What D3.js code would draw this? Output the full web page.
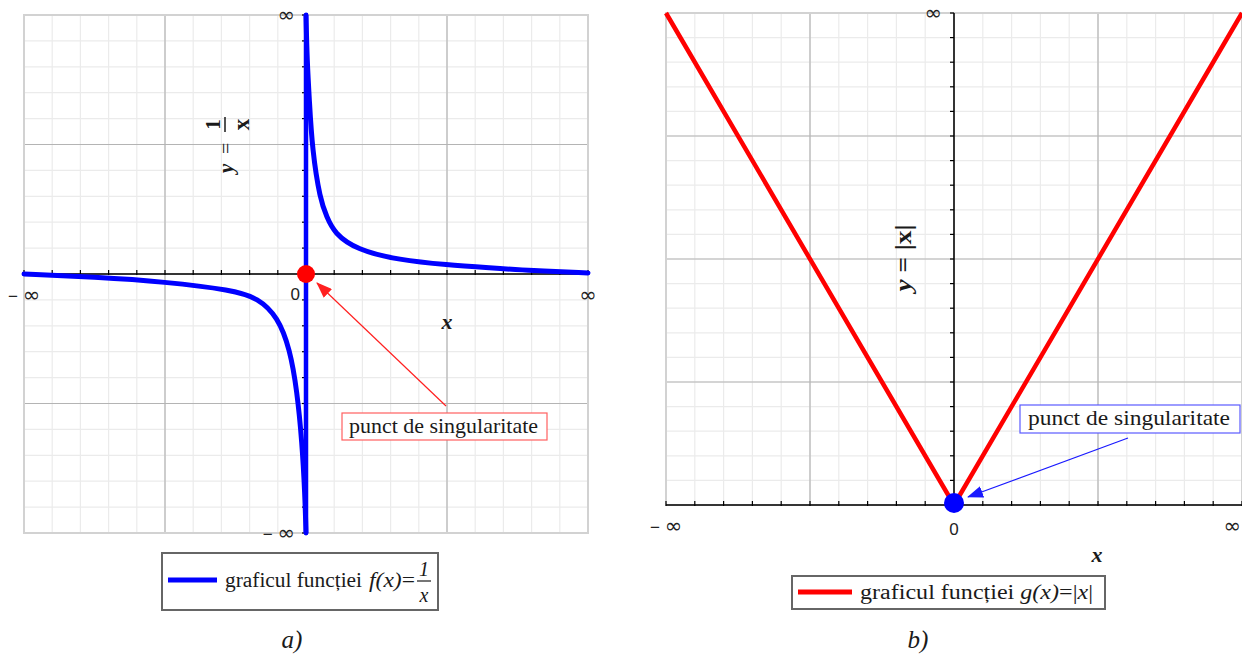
<!DOCTYPE html>
<html lang="ro">
<head>
<meta charset="UTF-8">
<title>Puncte de singularitate</title>
<script src="https://d3js.org/d3.v7.min.js"></script>
<style>
  body { margin: 0; background: #fff; }
  .serif { font-family: "Liberation Serif", "Times New Roman", serif; fill: #1a1a1a; }
  .tick-lbl { font-family: "Liberation Sans", Arial, sans-serif; font-size: 17px; fill: #222; }
  .inf { font-family: "DejaVu Sans", sans-serif; font-size: 21px; }
</style>
</head>
<body>
<script>
// curba y = 1/x (coordonate de tip "infinity plot")
const hypNegX = [-1, -0.75, -0.5, -0.26, -0.17, -0.10, -0.057, -0.032, -0.014, -0.004, 0];
const hypNegY = [0, -0.012, -0.03, -0.062, -0.093, -0.166, -0.29, -0.45, -0.65, -0.85, -1];
const hypPosX = [0, 0.004, 0.012, 0.022, 0.05, 0.074, 0.1, 0.18, 0.33, 0.5, 0.65, 0.8, 1];
const hypPosY = [1, 0.82, 0.67, 0.48, 0.286, 0.22, 0.158, 0.093, 0.054, 0.035, 0.024, 0.013, 0.004];

// curba y = |x|
const absX = [-1, 0, 1];
const absY = [1, 0, 1];

// linii de grilă
const majorA = [-1, -0.5, 0, 0.5, 1];
const minorA = d3.range(-10, 11).map(d => d / 10);
const majorBx = [-1, -0.5, 0, 0.5, 1];
const minorBx = d3.range(-10, 11).map(d => d / 10);
const majorBy = [0, 0.25, 0.5, 0.75, 1];
const minorBy = d3.range(0, 21).map(d => d / 20);

const svg = d3.select("body").append("svg")
    .attr("width", 1242).attr("height", 655);

const defs = svg.append("defs");
[["arrRed", "#ff2020"], ["arrBlue", "#1a1aff"]].forEach(([id, c]) => {
    defs.append("marker").attr("id", id)
        .attr("viewBox", "0 0 16 12").attr("refX", 15).attr("refY", 6)
        .attr("markerWidth", 16).attr("markerHeight", 12)
        .attr("markerUnits", "userSpaceOnUse").attr("orient", "auto")
        .append("path").attr("d", "M0,0 L16,6 L0,12 Z").attr("fill", c);
});

function grid(g, x, y, mx, Mx, my, My) {
    const [x0, x1] = x.range(), [y0, y1] = y.range();
    g.selectAll(".vmin").data(mx).enter().append("line")
        .attr("x1", d => x(d)).attr("x2", d => x(d)).attr("y1", y0).attr("y2", y1)
        .attr("stroke", "#ebebeb").attr("stroke-width", 1.2);
    g.selectAll(".hmin").data(my).enter().append("line")
        .attr("y1", d => y(d)).attr("y2", d => y(d)).attr("x1", x0).attr("x2", x1)
        .attr("stroke", "#ebebeb").attr("stroke-width", 1.2);
    g.selectAll(".vmaj").data(Mx).enter().append("line")
        .attr("x1", d => x(d)).attr("x2", d => x(d)).attr("y1", y0).attr("y2", y1)
        .attr("stroke", "#b4b4b4").attr("stroke-width", 1.2);
    g.selectAll(".hmaj").data(My).enter().append("line")
        .attr("y1", d => y(d)).attr("y2", d => y(d)).attr("x1", x0).attr("x2", x1)
        .attr("stroke", "#b4b4b4").attr("stroke-width", 1.2);
    g.append("rect").attr("x", x0).attr("y", y1).attr("width", x1 - x0).attr("height", y0 - y1)
        .attr("fill", "none").attr("stroke", "#d2d2d2").attr("stroke-width", 2);
}

function axes(g, x, y, xTicks, yTicks, x0v, y0v) {
    const ay = y(y0v), ax = x(x0v);
    g.append("line").attr("x1", x.range()[0]).attr("x2", x.range()[1])
        .attr("y1", ay).attr("y2", ay).attr("stroke", "#000").attr("stroke-width", 1.5);
    g.append("line").attr("x1", ax).attr("x2", ax)
        .attr("y1", y.range()[0]).attr("y2", y.range()[1]).attr("stroke", "#000").attr("stroke-width", 1.5);
    g.selectAll(".xt").data(xTicks).enter().append("line")
        .attr("x1", d => x(d)).attr("x2", d => x(d)).attr("y1", ay - 4).attr("y2", ay + 1)
        .attr("stroke", "#000").attr("stroke-width", 1.2);
    g.selectAll(".yt").data(yTicks).enter().append("line")
        .attr("y1", d => y(d)).attr("y2", d => y(d)).attr("x1", ax - 4).attr("x2", ax)
        .attr("stroke", "#000").attr("stroke-width", 1.2);
}

// eticheta de infinit: semn opțional + simbolul ∞ mai mare
function infLabel(g, x, y, anchor, neg) {
    const t = g.append("text").attr("class", "tick-lbl").attr("x", x).attr("y", y).attr("text-anchor", anchor);
    if (neg) t.append("tspan").text("− ");
    t.append("tspan").attr("class", "inf").text("∞");
    return t;
}

// ---------- a) ----------
const xA = d3.scaleLinear().domain([-1, 1]).range([24, 588]);
const yA = d3.scaleLinear().domain([-1, 1]).range([533, 15]);
const gA = svg.append("g");
grid(gA, xA, yA, minorA, majorA, minorA, majorA);
axes(gA, xA, yA, minorA, minorA, 0, 0);

const lineA = d3.line().x(d => xA(d[0])).y(d => yA(d[1])).curve(d3.curveBasis);
gA.append("path").attr("d", lineA(d3.zip(hypNegX, hypNegY)))
    .attr("fill", "none").attr("stroke", "#0000ff").attr("stroke-width", 5).attr("stroke-linecap", "round");
gA.append("line").attr("x1", xA(0)).attr("x2", xA(0)).attr("y1", yA(-1)).attr("y2", yA(1))
    .attr("stroke", "#0000ff").attr("stroke-width", 4.5);
gA.append("path").attr("d", lineA(d3.zip(hypPosX, hypPosY)))
    .attr("fill", "none").attr("stroke", "#0000ff").attr("stroke-width", 5).attr("stroke-linecap", "round");
gA.append("circle").attr("cx", xA(0)).attr("cy", yA(0)).attr("r", 9).attr("fill", "#ff0000");

infLabel(gA, 8, 302, "start", true);
gA.append("text").attr("class", "tick-lbl").attr("x", xA(0) - 6).attr("y", 300).attr("text-anchor", "end").text("0");
infLabel(gA, 588, 302, "middle", false);
infLabel(gA, xA(0) - 11, 22, "end", false);
infLabel(gA, xA(0) - 11, 540, "end", true);

gA.append("text").attr("class", "serif").attr("x", 447).attr("y", 329)
    .attr("text-anchor", "middle").style("font-size", "22px").style("font-weight", "bold").style("font-style", "italic").text("x");

// y = 1/x rotit
const lblA = gA.append("g").attr("transform", "translate(233,145) rotate(-90)");
lblA.append("text").attr("class", "serif").attr("x", -28).attr("y", 0)
    .style("font-size", "21px").style("font-weight", "bold").style("font-style", "italic").text("y");
lblA.append("text").attr("class", "serif").attr("x", -9).attr("y", 0)
    .style("font-size", "20px").text("=");
lblA.append("text").attr("class", "serif").attr("x", 20.5).attr("y", -13).attr("text-anchor", "middle")
    .style("font-size", "21px").style("font-weight", "bold").text("1");
lblA.append("line").attr("x1", 13).attr("x2", 28).attr("y1", -8).attr("y2", -8).attr("stroke", "#1a1a1a").attr("stroke-width", 1.5);
lblA.append("text").attr("class", "serif").attr("x", 20.5).attr("y", 16).attr("text-anchor", "middle")
    .style("font-size", "23px").style("font-weight", "bold").text("x");

// adnotare a)
gA.append("line").attr("x1", 446).attr("y1", 406).attr("x2", 317).attr("y2", 283)
    .attr("stroke", "#ff2020").attr("stroke-width", 1.2).attr("marker-end", "url(#arrRed)");
gA.append("rect").attr("x", 342).attr("y", 413).attr("width", 205).attr("height", 27)
    .attr("fill", "#fff").attr("stroke", "#ff6060").attr("stroke-width", 1.2);
gA.append("text").attr("class", "serif").attr("x", 349).attr("y", 433)
    .attr("textLength", 189).attr("lengthAdjust", "spacingAndGlyphs")
    .style("font-size", "21px").text("punct de singularitate");

// legenda a)
gA.append("rect").attr("x", 162).attr("y", 553).attr("width", 276).attr("height", 57)
    .attr("fill", "#fff").attr("stroke", "#666").attr("stroke-width", 2);
gA.append("line").attr("x1", 168).attr("x2", 217).attr("y1", 580).attr("y2", 580)
    .attr("stroke", "#0000ff").attr("stroke-width", 5);
gA.append("text").attr("class", "serif").attr("x", 225).attr("y", 587).style("font-size", "20px")
    .attr("textLength", 137).attr("lengthAdjust", "spacingAndGlyphs")
    .text("graficul funcției");
gA.append("text").attr("class", "serif").attr("x", 369).attr("y", 587).style("font-size", "20px")
    .attr("textLength", 46).attr("lengthAdjust", "spacingAndGlyphs")
    .html('<tspan font-style="italic">f(x)</tspan>=');
gA.append("text").attr("class", "serif").attr("x", 424).attr("y", 576).attr("text-anchor", "middle")
    .style("font-size", "20px").style("font-style", "italic").text("1");
gA.append("line").attr("x1", 417).attr("x2", 431).attr("y1", 581).attr("y2", 581).attr("stroke", "#1a1a1a").attr("stroke-width", 1.2);
gA.append("text").attr("class", "serif").attr("x", 424).attr("y", 602).attr("text-anchor", "middle")
    .style("font-size", "20px").style("font-style", "italic").text("x");

svg.append("text").attr("class", "serif").attr("x", 292).attr("y", 648).attr("text-anchor", "middle")
    .style("font-size", "25px").style("font-style", "italic").text("a)");

// ---------- b) ----------
const xB = d3.scaleLinear().domain([-1, 1]).range([666, 1242]);
const yB = d3.scaleLinear().domain([0, 1]).range([505, 13]);
const gB = svg.append("g");
grid(gB, xB, yB, minorBx, majorBx, minorBy, majorBy);
axes(gB, xB, yB, minorBx, minorBy, 0, 0);

const lineB = d3.line().x(d => xB(d[0])).y(d => yB(d[1]));
gB.append("path").attr("d", lineB(d3.zip(absX, absY)))
    .attr("fill", "none").attr("stroke", "#ff0000").attr("stroke-width", 4.5);
gB.append("circle").attr("cx", xB(0)).attr("cy", yB(0) - 2).attr("r", 10).attr("fill", "#0000ff");

infLabel(gB, 650, 533, "start", true);
gB.append("text").attr("class", "tick-lbl").attr("x", xB(0)).attr("y", 535).attr("text-anchor", "middle").text("0");
infLabel(gB, 1241, 533, "end", false);
infLabel(gB, xB(0) - 12, 20, "end", false);

gB.append("text").attr("class", "serif").attr("x", 1097).attr("y", 562)
    .attr("text-anchor", "middle").style("font-size", "22px").style("font-weight", "bold").style("font-style", "italic").text("x");

const lblB = gB.append("g").attr("transform", "translate(911,258) rotate(-90)");
lblB.append("text").attr("class", "serif").attr("text-anchor", "middle").attr("y", 0)
    .attr("textLength", 67).attr("lengthAdjust", "spacingAndGlyphs")
    .style("font-size", "23px").style("font-weight", "bold")
    .html('<tspan font-style="italic">y</tspan> = |x|');

// adnotare b)
gB.append("line").attr("x1", 1128).attr("y1", 438).attr("x2", 968).attr("y2", 497)
    .attr("stroke", "#1a1aff").attr("stroke-width", 1.2).attr("marker-end", "url(#arrBlue)");
gB.append("rect").attr("x", 1020).attr("y", 405).attr("width", 220).attr("height", 28)
    .attr("fill", "#fff").attr("stroke", "#5a5aff").attr("stroke-width", 1.2);
gB.append("text").attr("class", "serif").attr("x", 1028).attr("y", 425)
    .attr("textLength", 202).attr("lengthAdjust", "spacingAndGlyphs")
    .style("font-size", "21px").text("punct de singularitate");

// legenda b)
gB.append("rect").attr("x", 792).attr("y", 576).attr("width", 313).attr("height", 33)
    .attr("fill", "#fff").attr("stroke", "#666").attr("stroke-width", 2);
gB.append("line").attr("x1", 798).attr("x2", 852).attr("y1", 592).attr("y2", 592)
    .attr("stroke", "#ff0000").attr("stroke-width", 5);
gB.append("text").attr("class", "serif").attr("x", 860).attr("y", 599).style("font-size", "20px")
    .attr("textLength", 233).attr("lengthAdjust", "spacingAndGlyphs")
    .html('graficul funcției <tspan font-style="italic">g(x)</tspan>=|<tspan font-style="italic">x</tspan>|');

svg.append("text").attr("class", "serif").attr("x", 918).attr("y", 648).attr("text-anchor", "middle")
    .style("font-size", "25px").style("font-style", "italic").text("b)");
</script>
</body>
</html>
